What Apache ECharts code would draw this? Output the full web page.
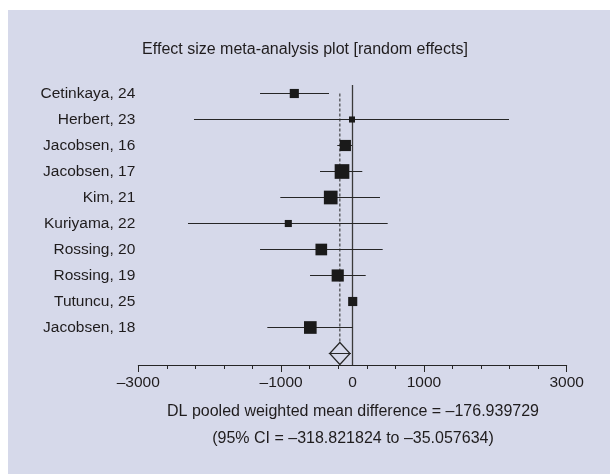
<!DOCTYPE html>
<html>
<head>
<meta charset="utf-8">
<script src="https://cdn.jsdelivr.net/npm/echarts@6/dist/echarts.min.js"></script>
<style>
html,body{margin:0;padding:0;background:#ffffff;}
#chart{width:610px;height:474px;}
</style>
</head>
<body>
<div id="chart"></div>
<script>
// ---- data ----
var studies = ['Cetinkaya, 24','Herbert, 23','Jacobsen, 16','Jacobsen, 17','Kim, 21','Kuriyama, 22','Rossing, 20','Rossing, 19','Tutuncu, 25','Jacobsen, 18'];
var estimates = [-815, -7, -100, -147, -305, -899, -437, -207, 3, -591];
var ciLower = [-1295, -2220, -213, -455, -1011, -2304, -1295, -595, -25, -1193];
var ciUpper = [-329, 2192, -7, 137, 385, 493, 423, 185, 30, 3];
var weights = [6.8, 3.0, 10.2, 17.6, 15.3, 4.1, 11.1, 12.1, 6.8, 13.1];
var pooled = -176.939729;
var pooledLower = -318.821824;
var pooledUpper = -35.057634;
var xTickLabels = [-3000, -1000, 0, 1000, 3000];
var titleText = 'Effect size meta-analysis plot [random effects]';
var summaryLine1 = 'DL pooled weighted mean difference = \u2013176.939729';
var summaryLine2 = '(95% CI = \u2013318.821824 to \u201335.057634)';

// ---- layout ----
var FONT = '"Liberation Sans", Arial, Helvetica, sans-serif';
var TXT = '#1f1c1d';
var LINE = '#262626';
var ROW_PX = 26;
var GRID_TOP = 85, GRID_H = 280;
var Y_MIN = -8.5 / ROW_PX;
var Y_MAX = Y_MIN + GRID_H / ROW_PX;
var pooledRow = studies.length;

function fmt(v) { return v < 0 ? '\u2013' + Math.abs(v) : String(v); }
function sq(w) { return Math.sqrt(w) * 3.5; }

var rows = studies.map(function (_, i) { return i; });

var chart = echarts.init(document.getElementById('chart'), null, {renderer: 'canvas'});

var xBase = {
  type: 'value', min: -3000, max: 3000, gridIndex: 0, position: 'bottom', offset: 0,
  splitLine: {show: false}
};

chart.setOption({
  animation: false,
  backgroundColor: '#ffffff',
  graphic: [
    {type: 'rect', z: -100, silent: true, shape: {x: 8, y: 10, width: 602, height: 464}, style: {fill: '#d6d9ea'}},
    {type: 'text', z: 10, style: {x: 353, y: 412, text: summaryLine1, align: 'center', verticalAlign: 'middle', font: '16px ' + FONT, fill: TXT}},
    {type: 'text', z: 10, style: {x: 353, y: 439, text: summaryLine2, align: 'center', verticalAlign: 'middle', font: '16px ' + FONT, fill: TXT}}
  ],
  title: {
    text: titleText, left: 'center', top: 42, padding: 0,
    textStyle: {fontFamily: FONT, fontSize: 16, fontWeight: 'normal', color: TXT}
  },
  grid: {left: 138.3, right: 43.3, top: GRID_TOP, height: GRID_H, containLabel: false},
  xAxis: [
    Object.assign({}, xBase, {
      interval: 400,
      axisLine: {show: true, onZero: false, lineStyle: {color: LINE, width: 1}},
      axisTick: {show: true, length: 4, lineStyle: {color: LINE, width: 1}},
      axisLabel: {show: false}
    }),
    Object.assign({}, xBase, {
      interval: 2000,
      axisLine: {show: false, onZero: false},
      axisTick: {show: true, length: 7, lineStyle: {color: LINE, width: 1}},
      axisLabel: {show: false}
    }),
    Object.assign({}, xBase, {
      interval: 1000,
      axisLine: {show: false, onZero: false},
      axisTick: {show: false},
      axisLabel: {
        show: true, margin: 10, fontFamily: FONT, fontSize: 15.5, color: TXT,
        formatter: function (v) { return xTickLabels.indexOf(v) >= 0 ? fmt(v) : ''; }
      }
    })
  ],
  yAxis: {
    type: 'value', inverse: true, min: Y_MIN, max: Y_MAX,
    axisLine: {show: false, onZero: false}, axisTick: {show: false}, splitLine: {show: false},
    axisLabel: {
      show: true, customValues: rows, margin: 3,
      fontFamily: FONT, fontSize: 15.5, color: TXT,
      formatter: function (v) { return studies[Math.round(v)] || ''; }
    }
  },
  series: [
    {
      // zero reference line
      type: 'line', xAxisIndex: 0, silent: true, symbol: 'none', z: 1,
      lineStyle: {color: '#3a3a3a', width: 1.3},
      data: [[0, Y_MIN], [0, Y_MAX]]
    },
    {
      // pooled estimate dashed line
      type: 'line', xAxisIndex: 0, silent: true, symbol: 'none', z: 1,
      lineStyle: {color: LINE, width: 1, type: [3, 2]},
      data: [[pooled, 0], [pooled, pooledRow - 0.42]]
    },
    {
      // confidence intervals
      type: 'custom', xAxisIndex: 0, silent: true, z: 2,
      data: rows.map(function (i) { return [ciLower[i], ciUpper[i], i]; }),
      renderItem: function (params, api) {
        var a = api.coord([api.value(0), api.value(2)]);
        var b = api.coord([api.value(1), api.value(2)]);
        return {type: 'line', shape: {x1: a[0], y1: a[1], x2: b[0], y2: b[1]},
          style: {stroke: LINE, lineWidth: 1}};
      }
    },
    {
      // study estimates (squares sized by weight)
      type: 'scatter', xAxisIndex: 0, silent: true, z: 3,
      symbol: 'rect',
      symbolSize: function (val, p) { return sq(weights[p.dataIndex]); },
      itemStyle: {color: '#1a1a1a', opacity: 1},
      data: rows.map(function (i) { return [estimates[i], i]; })
    },
    {
      // pooled diamond
      type: 'custom', xAxisIndex: 0, silent: true, z: 4,
      data: [[pooledLower, pooled, pooledUpper, pooledRow]],
      renderItem: function (params, api) {
        var r = api.value(3);
        var l = api.coord([api.value(0), r]);
        var c = api.coord([api.value(1), r]);
        var u = api.coord([api.value(2), r]);
        var h = 11;
        return {type: 'group', children: [
          {type: 'polygon', shape: {points: [[l[0], l[1]], [c[0], c[1] - h], [u[0], u[1]], [c[0], c[1] + h]]},
            style: {fill: 'none', stroke: LINE, lineWidth: 1.2}},
          {type: 'line', shape: {x1: l[0] - 1, y1: l[1], x2: u[0] + 1, y2: u[1]},
            style: {stroke: LINE, lineWidth: 1}}
        ]};
      }
    }
  ]
});
</script>
</body>
</html>
